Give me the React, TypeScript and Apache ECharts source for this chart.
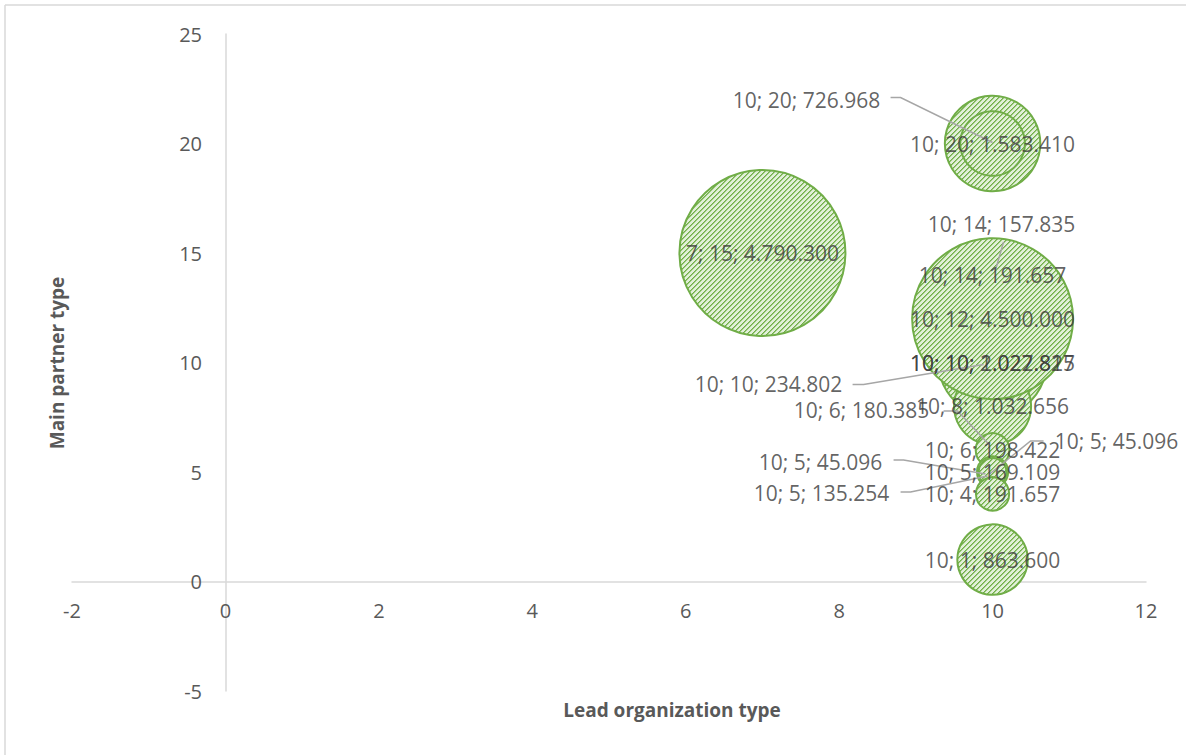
import React, { useEffect, useRef } from "react";
import * as echarts from "echarts";

// Bubble data: lead organization type (x), main partner type (y), amount (bubble size).
// Bubbles are drawn in this order.
const leadType = [7, 10, 10, 10, 10, 10, 10, 10, 10, 10, 10, 10, 10, 10, 10, 10, 10, 10];
const partnerType = [15, 20, 20, 14, 14, 10, 10, 10, 8, 12, 6, 6, 5, 5, 5, 5, 4, 1];
const amounts = [
  4790300, 1583410, 726968, 157835, 191657, 2027825, 1022817, 234802, 1032656,
  4500000, 180385, 198422, 45096, 45096, 169109, 135254, 191657, 863600,
];

const xTicks = { min: -2, max: 12, interval: 2 };
const yTicks = { min: -5, max: 25, interval: 5 };

// Labels moved away from their bubble: label offset and leader polyline,
// both in pixels relative to the bubble centre.
const movedLabels: Record<number, { offset: number[]; leader: number[][] }> = {
  2: { offset: [-186, -44], leader: [[-102, -46], [-92, -46], [0, -1]] },
  3: { offset: [9, -51], leader: [[11, -33], [3, -5]] },
  7: { offset: [-224, 21], leader: [[-140, 22], [-129, 22], [-9, 2]] },
  10: { offset: [-131, -40], leader: [[-49, -39], [-35, -39], [-4, -6]] },
  12: { offset: [124, -31], leader: [[51, -31], [38, -31], [-3, 2]] },
  13: { offset: [-172, -10], leader: [[-99, -12], [-89, -12], [-7, 2]] },
  15: { offset: [-171, 21], leader: [[-92, 20], [-82, 20], [-5, 4]] },
};

const FONT = "'Open Sans', 'Noto Sans', sans-serif";
const BUBBLE_MAX_RADIUS = 83;

function formatAmount(v: number): string {
  return String(v).replace(/\B(?=(\d{3})+(?!\d))/g, ".");
}

// Wide upward diagonal hatch used as the bubble fill
function makeHatch(): HTMLCanvasElement {
  const size = 5;
  const c = document.createElement("canvas");
  c.width = size;
  c.height = size;
  const ctx = c.getContext("2d")!;
  for (let x = 0; x < size; x++) {
    for (let y = 0; y < size; y++) {
      const k = (x + y) % size;
      ctx.fillStyle = k === 0 ? "#72ad4a" : k === 1 ? "#9ccb7d" : "#e2f0d9";
      ctx.fillRect(x, y, 1, 1);
    }
  }
  return c;
}

export default function App() {
  const ref = useRef<HTMLDivElement>(null);

  useEffect(() => {
    if (!ref.current) return;
    const chart = echarts.init(ref.current, null, { renderer: "svg" });
    const hatch = makeHatch();
    const maxAmount = Math.max(...amounts);
    const radius = (v: number) => BUBBLE_MAX_RADIUS * Math.sqrt(v / maxAmount);

    const bubbleData = amounts.map((v, i) => [leadType[i], partnerType[i], v]);

    const labelData = amounts.map((v, i) => {
      const moved = movedLabels[i];
      const item: any = { value: [leadType[i], partnerType[i], v] };
      if (moved) item.label = { offset: moved.offset };
      return item;
    });

    const leaderData = Object.keys(movedLabels).map((k) => {
      const i = Number(k);
      return [leadType[i], partnerType[i], i];
    });

    const axisLine = { onZero: true, lineStyle: { color: "#D9D9D9", width: 1.5 } };
    const tickText = { color: "#595959", fontSize: 20, fontFamily: FONT };

    chart.setOption({
      animation: false,
      backgroundColor: "#ffffff",
      grid: { left: 72, right: 40, top: 34, bottom: 64, containLabel: false },
      xAxis: {
        type: "value",
        min: xTicks.min,
        max: xTicks.max,
        interval: xTicks.interval,
        axisLine,
        axisTick: { show: false },
        splitLine: { show: false },
        axisLabel: { ...tickText, margin: -91 },
      },
      yAxis: {
        type: "value",
        min: yTicks.min,
        max: yTicks.max,
        interval: yTicks.interval,
        axisLine,
        axisTick: { show: false },
        splitLine: { show: false },
        axisLabel: { ...tickText, margin: -130 },
      },
      graphic: [
        {
          type: "line",
          shape: { x1: 5, y1: 5, x2: 1186, y2: 5 },
          style: { stroke: "#D9D9D9", lineWidth: 1.5 },
          silent: true,
        },
        {
          type: "line",
          shape: { x1: 5, y1: 5, x2: 5, y2: 755 },
          style: { stroke: "#D9D9D9", lineWidth: 1.5 },
          silent: true,
        },
        {
          type: "text",
          x: 672,
          y: 710,
          style: {
            text: "Lead organization type",
            fill: "#595959",
            font: `bold 19px ${FONT}`,
            textAlign: "center",
            textVerticalAlign: "middle",
          },
          silent: true,
        },
        {
          type: "text",
          x: 57,
          y: 363,
          rotation: Math.PI / 2,
          style: {
            text: "Main partner type",
            fill: "#595959",
            font: `bold 19px ${FONT}`,
            textAlign: "center",
            textVerticalAlign: "middle",
          },
          silent: true,
        },
      ],
      series: [
        {
          type: "custom",
          name: "bubbles",
          data: bubbleData,
          silent: true,
          z: 2,
          renderItem: (params: any, api: any) => {
            const c = api.coord([api.value(0), api.value(1)]);
            return {
              type: "circle",
              shape: { cx: c[0], cy: c[1], r: radius(api.value(2)) },
              style: {
                fill: { image: hatch, repeat: "repeat" },
                stroke: "#70AD47",
                lineWidth: 2,
              },
            };
          },
        },
        {
          type: "custom",
          name: "leaders",
          data: leaderData,
          silent: true,
          z: 3,
          renderItem: (params: any, api: any) => {
            const c = api.coord([api.value(0), api.value(1)]);
            const idx = api.value(2);
            const pts = movedLabels[idx].leader.map((d) => [c[0] + d[0], c[1] + d[1]]);
            return {
              type: "polyline",
              shape: { points: pts },
              style: { stroke: "#A6A6A6", lineWidth: 1.5, fill: "none" },
            };
          },
        },
        {
          type: "scatter",
          name: "labels",
          data: labelData,
          symbol: "circle",
          symbolSize: (v: number[]) => 2 * radius(v[2]),
          itemStyle: { color: "rgba(0,0,0,0)", borderWidth: 0 },
          label: {
            show: true,
            position: "inside",
            color: "#3b3b3b",
            fontSize: 21,
            fontFamily: FONT,
            textBorderWidth: 0,
            formatter: (p: any) =>
              `${p.value[0]}; ${p.value[1]}; ${formatAmount(p.value[2])}`,
          },
          emphasis: { disabled: true },
          silent: true,
          z: 4,
        },
      ],
    });

    return () => chart.dispose();
  }, []);

  return (
    <div
      ref={ref}
      style={{ position: "fixed", left: 0, top: 0, width: 1186, height: 755, background: "#fff" }}
    />
  );
}
